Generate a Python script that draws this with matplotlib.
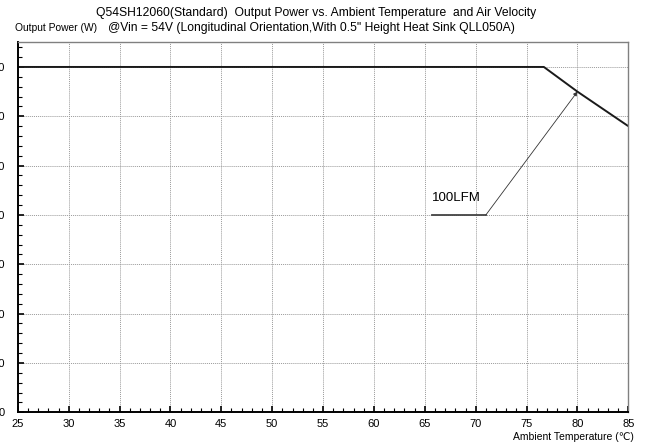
import matplotlib
matplotlib.use("Agg")
import matplotlib.pyplot as plt
from matplotlib.ticker import MultipleLocator

plt.rcParams['font.family'] = ['Liberation Sans', 'DejaVu Sans']

# data
temps = [25, 76.7, 80, 85]
power_100lfm = [700, 700, 650, 580]
x_ticks = [25, 30, 35, 40, 45, 50, 55, 60, 65, 70, 75, 80, 85]
y_ticks = [0, 100, 200, 300, 400, 500, 600, 700]
label_text = "100LFM"
label_pos = (65.7, 429)
leader_start = (65.7, 400)
leader_knee = (71.0, 400)
arrow_target = (80.0, 650)

fig = plt.figure(figsize=(6.48, 4.48), dpi=100)
ax = fig.add_axes([0.0275, 0.0797, 0.9421, 0.8259])

ax.plot(temps, power_100lfm, color='#1a1a1a', lw=1.4, solid_capstyle='butt')

ax.set_xlim(25, 85)
ax.set_ylim(0, 750)
ax.set_xticks(x_ticks)
ax.set_yticks(y_ticks)
ax.xaxis.set_minor_locator(MultipleLocator(1))
ax.yaxis.set_minor_locator(MultipleLocator(20))
ax.tick_params(axis='both', which='both', direction='in', top=False, right=False)
ax.tick_params(axis='both', which='major', length=4, width=1.2, labelsize=8)
ax.tick_params(axis='both', which='minor', length=3, width=0.8)
ax.tick_params(axis='x', which='major', pad=5)
ax.tick_params(axis='y', which='major', pad=9.5)

ax.grid(True, which='major', color='#9a9a9a', linestyle=(0, (1, 1)), linewidth=0.7)

for side in ['left', 'bottom']:
    ax.spines[side].set_color('black')
    ax.spines[side].set_linewidth(1.4)
for side in ['top', 'right']:
    ax.spines[side].set_color('#808080')
    ax.spines[side].set_linewidth(1.0)

# annotation
ax.plot([leader_start[0], leader_knee[0]], [leader_start[1], leader_knee[1]],
        color='#444444', lw=1.3)
ax.annotate('', xy=arrow_target, xytext=leader_knee,
            arrowprops=dict(arrowstyle='-|>', color='#333333', lw=0.6,
                            mutation_scale=6, shrinkA=0, shrinkB=0))
ax.text(label_pos[0], label_pos[1], label_text, fontsize=9.5, ha='left', va='baseline')

fig.text(0.4877, 0.971, "Q54SH12060(Standard)  Output Power vs. Ambient Temperature  and Air Velocity",
         ha='center', va='center', fontsize=8.7)
fig.text(0.023, 0.9375, "Output Power (W)", ha='left', va='center', fontsize=7.4)
fig.text(0.1667, 0.9375, "@Vin = 54V (Longitudinal Orientation,With 0.5\" Height Heat Sink QLL050A)",
         ha='left', va='center', fontsize=8.75)
fig.text(0.978, 0.0246, "Ambient Temperature (\u2103)", ha='right', va='center', fontsize=7.5)

fig.savefig("out.png", dpi=100)
